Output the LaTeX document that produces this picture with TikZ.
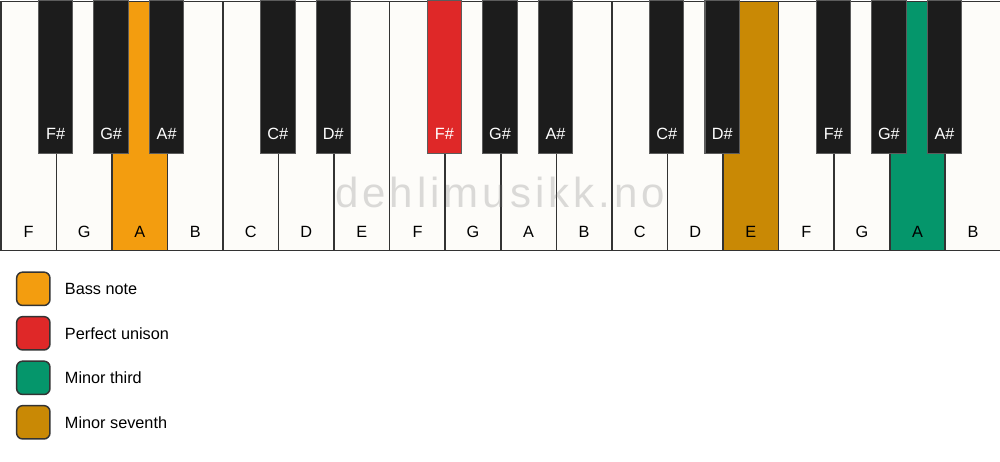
\documentclass[tikz,border=0pt]{standalone}
\usepackage{fontspec}
\setmainfont{Liberation Sans}
\newfontfamily\markfont[LetterSpace=9.5]{Liberation Sans}
\usepackage{xcolor}
\usetikzlibrary{positioning}

\definecolor{keywhite}{HTML}{FDFCF9}
\definecolor{keyblack}{HTML}{1C1C1C}
\definecolor{keyline}{HTML}{333333}
\definecolor{bassnote}{HTML}{F39D0F}
\definecolor{unison}{HTML}{DF2828}
\definecolor{minthird}{HTML}{05966B}
\definecolor{minseventh}{HTML}{C98905}

\tikzset{
  whitekey/.style={draw=keyline, line width=1.2pt, minimum width=41.667pt, minimum height=186.75pt, inner sep=0pt, anchor=north west},
  blackkey/.style={draw=keyline!80, line width=0.8pt, minimum width=25.9pt, minimum height=114.75pt, inner sep=0pt, anchor=north},
  keylabel/.style={inner sep=0pt, font=\fontsize{12.2}{14}\selectfont},
  legendbox/.style={draw=keyline, line width=1.1pt, rounded corners=4.5pt, minimum size=25pt, inner sep=0pt},
  legendtext/.style={inner sep=0pt, font=\fontsize{12.2}{14}\selectfont}
}

\begin{document}
\begin{tikzpicture}[x=0.75pt,y=-0.75pt]
\useasboundingbox (0,0) rectangle (1000,461);

% white keys
\foreach \n/\c [count=\i] in {F/keywhite,G/keywhite,A/bassnote,B/keywhite,C/keywhite,D/keywhite,E/keywhite,
  F/keywhite,G/keywhite,A/keywhite,B/keywhite,C/keywhite,D/keywhite,E/minseventh,
  F/keywhite,G/keywhite,A/minthird,B/keywhite}
{
  \node[whitekey, fill=\c] (w\i) at ({(\i-1)*55.556},0.5) {};
  \node[keylabel] (lw\i) at ([yshift=14.6pt]w\i.south) {\n};
}

\node[anchor=base, inner sep=0pt, text=black!55, text opacity=0.25, font=\markfont\fontsize{31.5}{34}\selectfont] (mark) at (500,207.5) {dehlimusikk.no};

% black keys
\foreach \n/\k/\c in {F\#/1/keyblack,G\#/2/keyblack,A\#/3/keyblack,C\#/5/keyblack,D\#/6/keyblack,
  F\#/8/unison,G\#/9/keyblack,A\#/10/keyblack,C\#/12/keyblack,D\#/13/keyblack,
  F\#/15/keyblack,G\#/16/keyblack,A\#/17/keyblack}
{
  \node[blackkey, fill=\c] (b\k) at ({\k*55.556},0) {};
  \node[keylabel, text=white] (lb\k) at ([yshift=14.8pt]b\k.south) {\n};
}

% legend
\node[legendbox, fill=bassnote] (bass) at (33.3,288.8) {};
\node[legendtext, right=10.5pt of bass] (basstext) {Bass note};
\node[legendbox, fill=unison] (uni) at (33.3,333.3) {};
\node[legendtext, right=10.5pt of uni] (unitext) {Perfect unison};
\node[legendbox, fill=minthird] (third) at (33.3,377.8) {};
\node[legendtext, right=10.5pt of third] (thirdtext) {Minor third};
\node[legendbox, fill=minseventh] (seventh) at (33.3,422.3) {};
\node[legendtext, right=10.5pt of seventh] (seventhtext) {Minor seventh};
\end{tikzpicture}
\end{document}
